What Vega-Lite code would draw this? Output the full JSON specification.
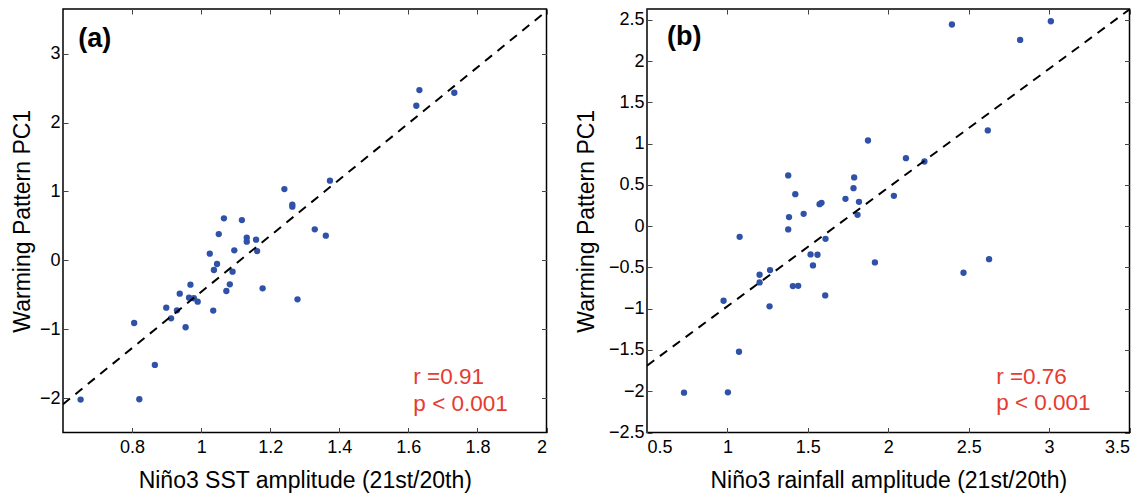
{
  "$schema": "https://vega.github.io/schema/vega-lite/v6.json",
  "padding": {"left": 10, "top": 7, "right": 5, "bottom": 5},
  "background": "white",
  "bounds": "flush",
  "spacing": 100,
  "config": {
    "font": "Liberation Sans",
    "view": {"stroke": "black", "strokeWidth": 1.5},
    "axis": {
      "labelFont": "Liberation Sans",
      "labelFontSize": 18,
      "labelColor": "black",
      "titleFont": "Liberation Sans",
      "titleFontSize": 23,
      "titleFontWeight": "normal",
      "titleColor": "black",
      "domain": false,
      "grid": false,
      "tickColor": "#444",
      "tickSize": -5,
      "tickWidth": 1,
      "labelPadding": 8
    }
  },
  "datasets": {
    "a": [
      {"amp": 1.241, "pc1": 1.035}, {"amp": 1.264, "pc1": 0.81}, {"amp": 1.264, "pc1": 0.78},
      {"amp": 1.066, "pc1": 0.61}, {"amp": 1.118, "pc1": 0.585}, {"amp": 1.051, "pc1": 0.382},
      {"amp": 1.132, "pc1": 0.329}, {"amp": 1.132, "pc1": 0.271}, {"amp": 1.159, "pc1": 0.30},
      {"amp": 1.632, "pc1": 2.472}, {"amp": 1.623, "pc1": 2.245}, {"amp": 1.733, "pc1": 2.434},
      {"amp": 1.373, "pc1": 1.157}, {"amp": 1.329, "pc1": 0.45}, {"amp": 1.361, "pc1": 0.358},
      {"amp": 1.025, "pc1": 0.097}, {"amp": 1.096, "pc1": 0.145}, {"amp": 1.162, "pc1": 0.135},
      {"amp": 1.046, "pc1": -0.053}, {"amp": 1.037, "pc1": -0.14}, {"amp": 1.091, "pc1": -0.165},
      {"amp": 0.969, "pc1": -0.353}, {"amp": 1.083, "pc1": -0.348}, {"amp": 1.073, "pc1": -0.445},
      {"amp": 1.178, "pc1": -0.406}, {"amp": 0.938, "pc1": -0.484}, {"amp": 0.965, "pc1": -0.542},
      {"amp": 0.979, "pc1": -0.55}, {"amp": 0.990, "pc1": -0.60}, {"amp": 0.899, "pc1": -0.687},
      {"amp": 0.930, "pc1": -0.726}, {"amp": 1.035, "pc1": -0.73}, {"amp": 0.913, "pc1": -0.842},
      {"amp": 0.806, "pc1": -0.91}, {"amp": 0.955, "pc1": -0.972}, {"amp": 0.866, "pc1": -1.519},
      {"amp": 0.651, "pc1": -2.022}, {"amp": 0.821, "pc1": -2.017}, {"amp": 1.279, "pc1": -0.566}
    ],
    "b": [
      {"amp": 1.874, "pc1": 1.0375}, {"amp": 1.378, "pc1": 0.614}, {"amp": 1.788, "pc1": 0.59},
      {"amp": 1.784, "pc1": 0.46}, {"amp": 1.422, "pc1": 0.387}, {"amp": 1.734, "pc1": 0.33},
      {"amp": 1.818, "pc1": 0.294}, {"amp": 1.573, "pc1": 0.266}, {"amp": 1.585, "pc1": 0.282},
      {"amp": 1.383, "pc1": 0.109}, {"amp": 1.474, "pc1": 0.149}, {"amp": 1.809, "pc1": 0.137},
      {"amp": 1.378, "pc1": -0.04}, {"amp": 1.076, "pc1": -0.13}, {"amp": 1.61, "pc1": -0.154},
      {"amp": 2.396, "pc1": 2.442}, {"amp": 3.011, "pc1": 2.482}, {"amp": 2.82, "pc1": 2.256},
      {"amp": 2.619, "pc1": 1.159}, {"amp": 2.11, "pc1": 0.823}, {"amp": 2.225, "pc1": 0.783},
      {"amp": 2.035, "pc1": 0.367}, {"amp": 1.517, "pc1": -0.343}, {"amp": 1.560, "pc1": -0.347},
      {"amp": 1.532, "pc1": -0.476}, {"amp": 1.265, "pc1": -0.533}, {"amp": 1.2, "pc1": -0.589},
      {"amp": 1.2, "pc1": -0.682}, {"amp": 1.407, "pc1": -0.726}, {"amp": 1.44, "pc1": -0.723},
      {"amp": 1.608, "pc1": -0.839}, {"amp": 0.976, "pc1": -0.904}, {"amp": 1.262, "pc1": -0.972},
      {"amp": 1.072, "pc1": -1.522}, {"amp": 0.73, "pc1": -2.018}, {"amp": 1.003, "pc1": -2.013},
      {"amp": 1.917, "pc1": -0.44}, {"amp": 2.468, "pc1": -0.565}, {"amp": 2.627, "pc1": -0.40}
    ],
    "fitA": [{"amp": 0.6, "pc1": -2.09}, {"amp": 2.0, "pc1": 3.62}],
    "fitB": [{"amp": 0.5, "pc1": -1.69}, {"amp": 3.5, "pc1": 2.625}],
    "one": [{"k": 1}]
  },
  "hconcat": [
    {
      "width": 483.5,
      "height": 423.5,
      "resolve": {"axis": {"x": "independent", "y": "independent"}},
      "layer": [
        {
          "data": {"name": "a"},
          "mark": {"type": "circle", "size": 40, "color": "#2f52a8", "opacity": 1},
          "encoding": {
            "x": {"field": "amp", "type": "quantitative",
                  "scale": {"domain": [0.6, 2], "nice": false, "zero": false},
                  "axis": {"orient": "bottom", "values": [0.8, 1, 1.2, 1.4, 1.6, 1.8, 2], "format": "~g",
                           "title": "Niño3 SST amplitude (21st/20th)", "labelPadding": 11, "titlePadding": 13}},
            "y": {"field": "pc1", "type": "quantitative",
                  "scale": {"domain": [-2.5, 3.65], "nice": false, "zero": false},
                  "axis": {"orient": "left", "values": [-2, -1, 0, 1, 2, 3], "format": "~g",
                           "title": "Warming Pattern PC1", "titlePadding": 5}}
          }
        },
        {
          "data": {"name": "fitA"},
          "mark": {"type": "line", "color": "black", "strokeWidth": 2, "strokeDash": [9, 7], "clip": true},
          "encoding": {
            "x": {"field": "amp", "type": "quantitative",
                  "axis": {"orient": "top", "values": [0.8, 1, 1.2, 1.4, 1.6, 1.8, 2], "labels": false, "title": null}},
            "y": {"field": "pc1", "type": "quantitative",
                  "axis": {"orient": "right", "values": [-2, -1, 0, 1, 2, 3], "labels": false, "title": null}}
          }
        },
        {
          "data": {"name": "one"},
          "mark": {"type": "text", "text": "(a)", "font": "Liberation Sans", "fontSize": 27, "fontWeight": "bold", "align": "left", "baseline": "middle", "color": "black"},
          "encoding": {
            "x": {"datum": 0.644, "type": "quantitative", "axis": null},
            "y": {"datum": 3.22, "type": "quantitative", "axis": null}
          }
        },
        {
          "data": {"name": "one"},
          "mark": {"type": "text", "text": ["r =0.91", "p < 0.001"], "font": "Liberation Sans", "fontSize": 22.5, "lineHeight": 26.6, "align": "left", "baseline": "alphabetic", "color": "#e63b2e"},
          "encoding": {
            "x": {"datum": 1.6145, "type": "quantitative", "axis": null},
            "y": {"datum": -1.795, "type": "quantitative", "axis": null}
          }
        }
      ]
    },
    {
      "width": 482.5,
      "height": 423.5,
      "resolve": {"axis": {"x": "independent", "y": "independent"}},
      "layer": [
        {
          "data": {"name": "b"},
          "mark": {"type": "circle", "size": 40, "color": "#2f52a8", "opacity": 1},
          "encoding": {
            "x": {"field": "amp", "type": "quantitative",
                  "scale": {"domain": [0.5, 3.5], "nice": false, "zero": false},
                  "axis": {"orient": "bottom", "values": [0.5, 1, 1.5, 2, 2.5, 3, 3.5], "format": "~g",
                           "title": "Niño3 rainfall amplitude (21st/20th)", "labelPadding": 11, "titlePadding": 13}},
            "y": {"field": "pc1", "type": "quantitative",
                  "scale": {"domain": [-2.5, 2.63], "nice": false, "zero": false},
                  "axis": {"orient": "left", "values": [-2.5, -2, -1.5, -1, -0.5, 0, 0.5, 1, 1.5, 2, 2.5], "format": "~g",
                           "title": "Warming Pattern PC1", "titlePadding": 10}}
          }
        },
        {
          "data": {"name": "fitB"},
          "mark": {"type": "line", "color": "black", "strokeWidth": 2, "strokeDash": [9, 7], "clip": true},
          "encoding": {
            "x": {"field": "amp", "type": "quantitative",
                  "axis": {"orient": "top", "values": [0.5, 1, 1.5, 2, 2.5, 3, 3.5], "labels": false, "title": null}},
            "y": {"field": "pc1", "type": "quantitative",
                  "axis": {"orient": "right", "values": [-2.5, -2, -1.5, -1, -0.5, 0, 0.5, 1, 1.5, 2, 2.5], "labels": false, "title": null}}
          }
        },
        {
          "data": {"name": "one"},
          "mark": {"type": "text", "text": "(b)", "font": "Liberation Sans", "fontSize": 27, "fontWeight": "bold", "align": "left", "baseline": "middle", "color": "black"},
          "encoding": {
            "x": {"datum": 0.624, "type": "quantitative", "axis": null},
            "y": {"datum": 2.285, "type": "quantitative", "axis": null}
          }
        },
        {
          "data": {"name": "one"},
          "mark": {"type": "text", "text": ["r =0.76", "p < 0.001"], "font": "Liberation Sans", "fontSize": 22.5, "lineHeight": 26.6, "align": "left", "baseline": "alphabetic", "color": "#e63b2e"},
          "encoding": {
            "x": {"datum": 2.671, "type": "quantitative", "axis": null},
            "y": {"datum": -1.909, "type": "quantitative", "axis": null}
          }
        }
      ]
    }
  ]
}
